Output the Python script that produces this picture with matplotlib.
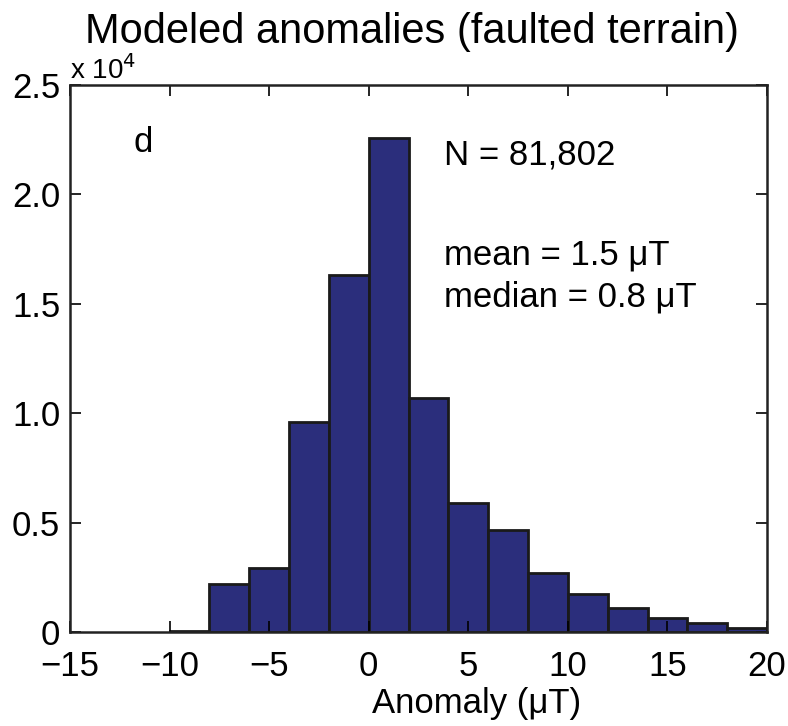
import matplotlib
matplotlib.use("Agg")
import matplotlib.pyplot as plt
import matplotlib.ticker as ticker
import numpy as np

# histogram bin edges (uT) and counts per bin
bin_edges = [-10, -8, -6, -4, -2, 0, 2, 4, 6, 8, 10, 12, 14, 16, 18, 20]
counts = [50, 2190, 2920, 9600, 16320, 22580, 10700, 5900, 4660,
          2700, 1740, 1100, 640, 410, 180]

x_ticks = [-15, -10, -5, 0, 5, 10, 15, 20]
y_ticks = [0, 5000, 10000, 15000, 20000, 25000]

plt.rcParams['font.family'] = ['Liberation Sans', 'DejaVu Sans']

fig = plt.figure(figsize=(7.88, 7.26), dpi=100)
ax = fig.add_axes([0.0888, 0.1295, 0.8846, 0.7535])

edges = np.array(bin_edges)
ax.bar(edges[:-1], counts, width=np.diff(edges), align='edge',
       color='#2b2e7c', edgecolor='#1a1a1a', linewidth=2)

ax.set_xlim(-15, 20)
ax.set_ylim(0, 25000)
ax.set_xticks(x_ticks)
ax.set_yticks(y_ticks)
ax.xaxis.set_major_formatter(ticker.FuncFormatter(
    lambda v, p: ('%d' % v).replace('-', '\u2212')))
ax.yaxis.set_major_formatter(ticker.FuncFormatter(
    lambda v, p: '0' if v == 0 else '%.1f' % (v / 1e4)))

ax.tick_params(direction='in', length=8, width=1.2, labelsize=25,
               top=True, right=True)
ax.tick_params(axis='x', pad=13)
ax.tick_params(axis='y', pad=7)
for s in ax.spines.values():
    s.set_linewidth(1.8)
    s.set_color('#222222')

ax.set_xlabel('Anomaly (\u03bcT)', fontsize=25)
ax.xaxis.set_label_coords(0.584, -0.1)
ax.xaxis.label.set_va('top')
ax.set_title('Modeled anomalies (faulted terrain)', fontsize=30, pad=30,
             x=0.49)
ax.text(0.0, 1.0, 'x 10$^4$', transform=ax.transAxes, fontsize=20,
        ha='left', va='bottom')

ax.text(-11.8, 22350, 'd', fontsize=25, va='center')
ax.text(3.8, 21800, 'N = 81,802', fontsize=25, va='center')
ax.text(3.8, 17230, 'mean = 1.5 \u03bcT', fontsize=25, va='center')
ax.text(3.8, 15310, 'median = 0.8 \u03bcT', fontsize=25, va='center')

fig.savefig('out.png', dpi=100)
